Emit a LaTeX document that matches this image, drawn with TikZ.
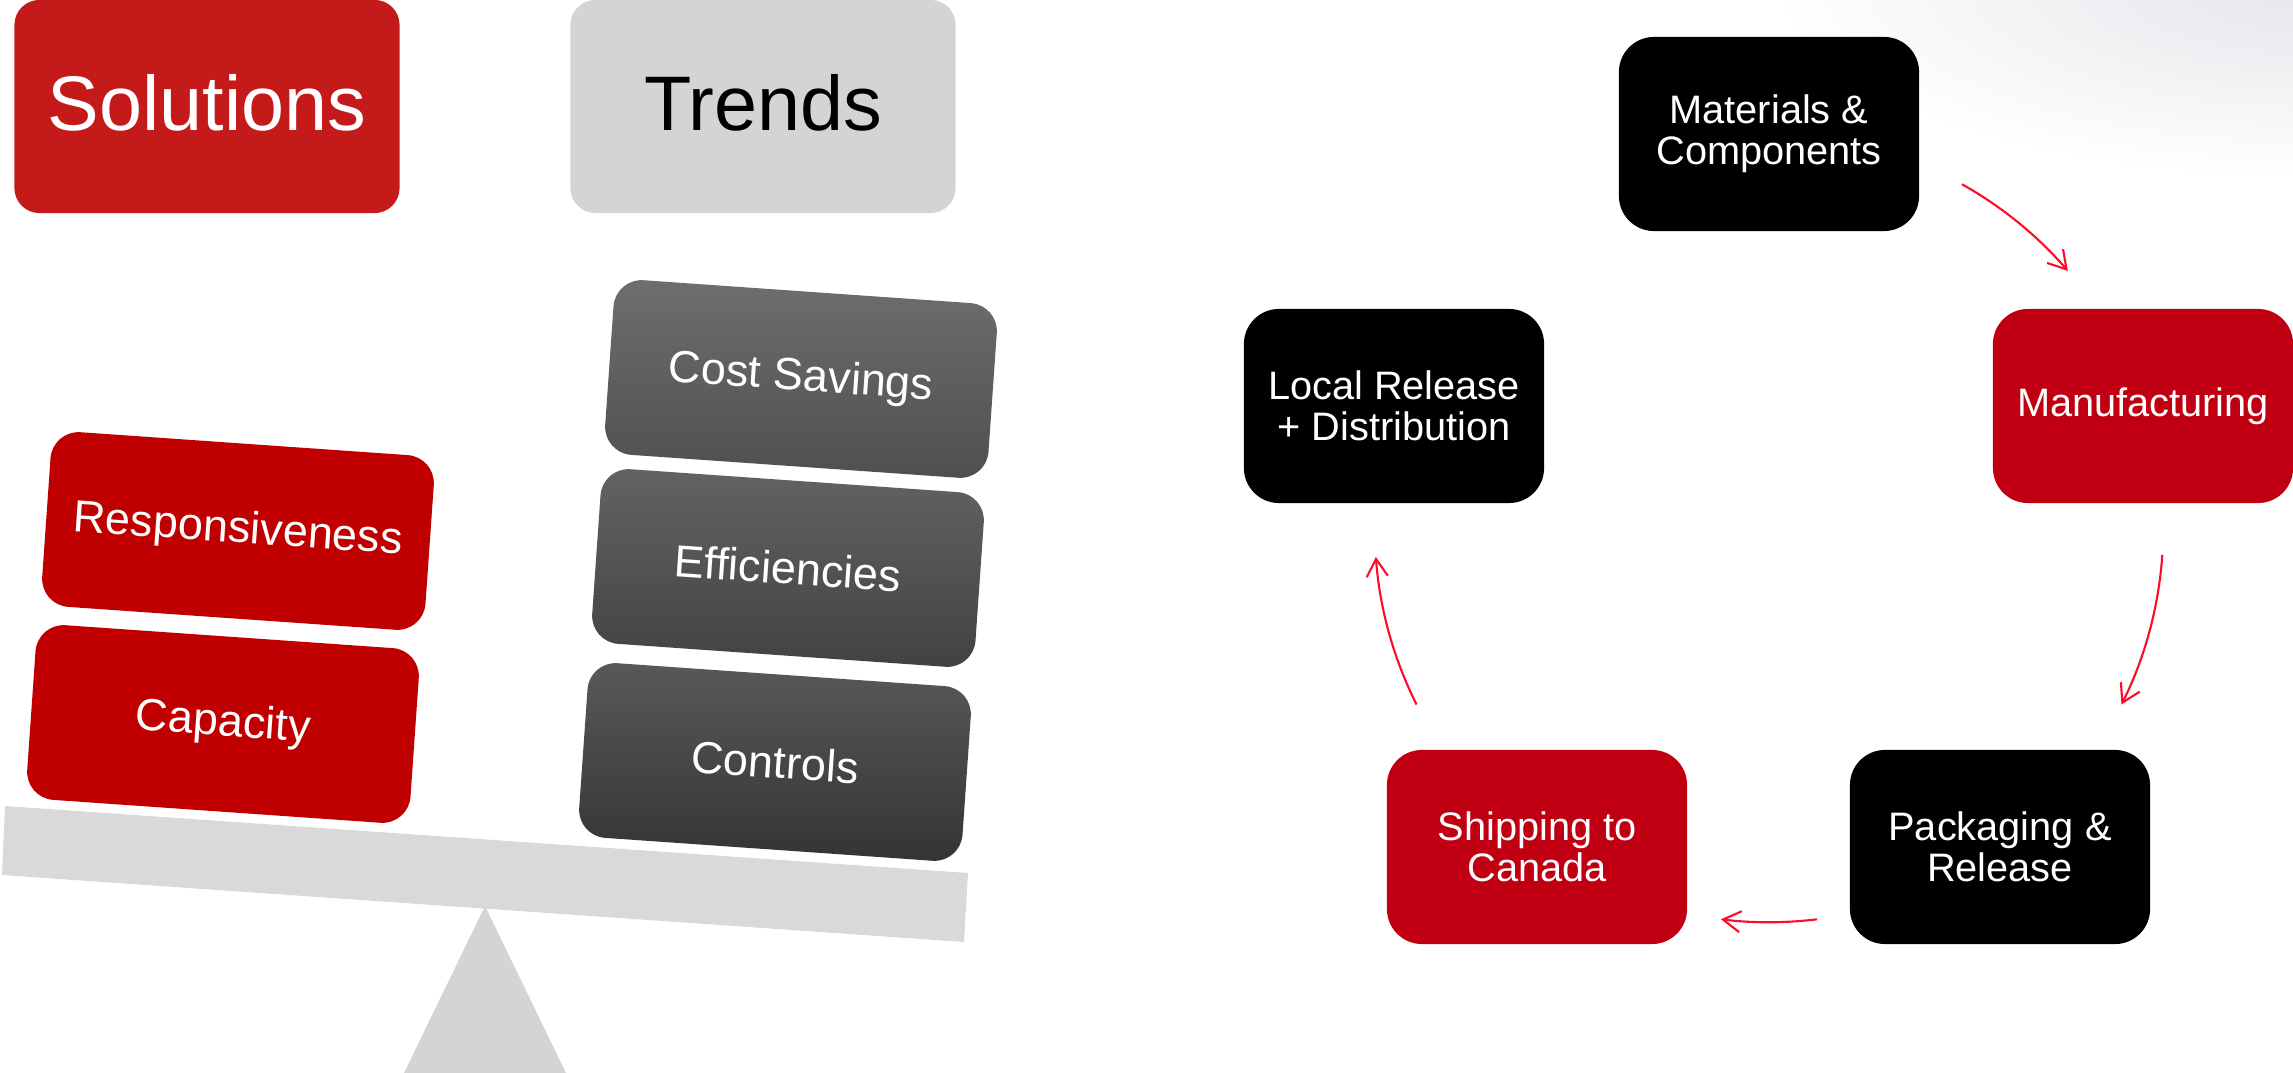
\documentclass[tikz,border=0pt]{standalone}
\usepackage{fontspec}
\setmainfont{Liberation Sans}
\usetikzlibrary{calc,arrows.meta}
\definecolor{solred}{RGB}{196,26,26}
\definecolor{trgray}{RGB}{212,212,212}
\definecolor{boxred}{RGB}{192,0,0}
\definecolor{procred}{RGB}{192,0,18}
\definecolor{beamgray}{RGB}{217,217,217}
\definecolor{fulcgray}{RGB}{212,212,212}
\definecolor{arrred}{RGB}{255,10,40}
\definecolor{cornergray}{RGB}{228,228,234}
\definecolor{csTop}{RGB}{110,110,110}
\definecolor{csBot}{RGB}{79,79,79}
\definecolor{efTop}{RGB}{99,99,99}
\definecolor{efBot}{RGB}{66,66,66}
\definecolor{ctTop}{RGB}{89,89,89}
\definecolor{ctBot}{RGB}{52,52,52}
\tikzset{
  header/.style={minimum width=3.85cm, minimum height=2.13cm, rounded corners=0.25cm, inner sep=0pt, text depth=2.2pt, font=\fontsize{22}{26}\selectfont},
  tilt/.style={rotate=-4, minimum width=3.84cm, minimum height=1.75cm, rounded corners=0.28cm, inner sep=0pt, text=white, font=\fontsize{12.8}{15}\selectfont},
  solbox/.style={tilt, fill=boxred},
  trbox/.style 2 args={tilt, top color=#1, bottom color=#2},
  proc/.style={minimum width=3.0cm, minimum height=1.94cm, rounded corners=0.35cm, inner sep=0pt, text=white, align=center, font=\fontsize{11.3}{11.7}\selectfont},
  flow/.style={draw=arrred, line width=0.6pt, -{Straight Barb[length=5pt,width=6pt]}}
}
\begin{document}
\begin{tikzpicture}[x=0.01cm,y=-0.01cm]
\useasboundingbox (0,0) rectangle (2293,1073);
% faint corner glow
\begin{scope}
  \clip (0,0) rectangle (2293,1073);
  \shade[inner color=cornergray, outer color=white] (2330,-20) ellipse [x radius=5.6cm, y radius=2.0cm];
\end{scope}
% headers
\node[header, fill=solred, text=white] (sol) at (207,106.5) {Solutions};
\node[header, fill=trgray, text=black] (tre) at (763,106.5) {Trends};
% balance
\fill[fulcgray] (485,906) -- (566,1073) -- (404,1073) -- cycle;
\fill[beamgray] (5,806) -- (968,873) -- (964,942) -- (2,875) -- cycle;
% tilted boxes
\node[solbox] (resp) at (238,531) {Responsiveness};
\node[solbox] (cap) at (223,724) {Capacity};
\node[trbox={csTop}{csBot}] (cost) at (801,379) {Cost Savings};
\node[trbox={efTop}{efBot}] (eff) at (788,568) {Efficiencies};
\node[trbox={ctTop}{ctBot}] (ctl) at (775,762) {Controls};
% process cycle
\node[proc, fill=black] (mat) at (1769,134) {Materials \&\\Components};
\node[proc, fill=procred] (man) at (2143,406) {Manufacturing};
\node[proc, fill=black] (pack) at (2000,847) {Packaging \&\\Release};
\node[proc, fill=procred] (ship) at (1537,847) {Shipping to\\Canada};
\node[proc, fill=black] (loc) at (1394,406) {Local Release\\+ Distribution};
\coordinate (cen) at (1769,528);
\coordinate (a1s) at ($(cen)+(60.7:3.94cm)$);
\coordinate (a2s) at ($(cen)+(-3.9:3.94cm)$);
\coordinate (a3s) at ($(cen)+(-83:3.94cm)$);
\coordinate (a4s) at ($(cen)+(206.6:3.94cm)$);
\draw[flow] (a1s) arc[start angle=60.7, end angle=40.7, radius=3.94cm];
\draw[flow] (a2s) arc[start angle=-3.9, end angle=-26.6, radius=3.94cm];
\draw[flow] (a3s) arc[start angle=-83, end angle=-97, radius=3.94cm];
\draw[flow] (a4s) arc[start angle=206.6, end angle=184.2, radius=3.94cm];
\end{tikzpicture}
\end{document}
